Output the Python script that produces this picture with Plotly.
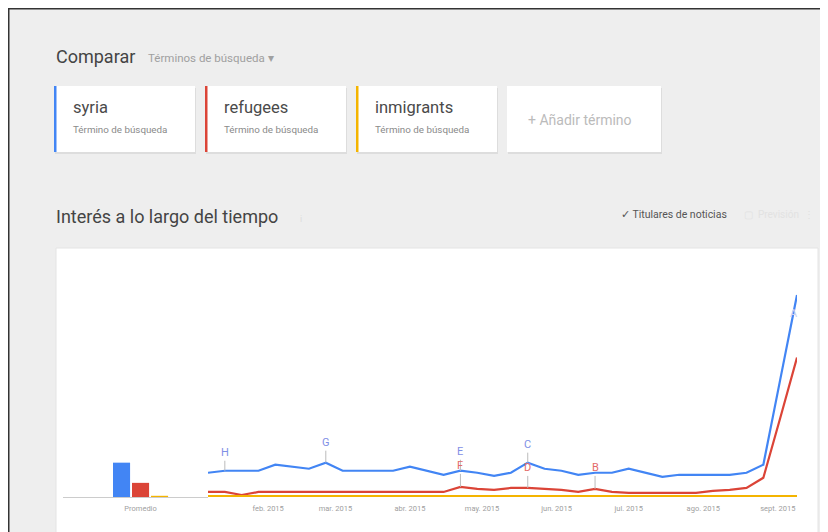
import pandas as pd
import plotly.graph_objects as go

# page offset: the browser body adds an 8px margin
OFF = 8
W, H = 820, 524

# ---------------- data ----------------
weeks = pd.date_range("2015-01-07", periods=36, freq="7D")
syria = [12, 13, 13, 13, 16, 15, 14, 17, 13, 13, 13, 13, 15, 13, 11, 13, 12, 10.5,
         12, 17, 14, 13, 11, 12, 12, 14, 12, 10, 11, 11, 11, 11, 12, 16, 58, 100]
refugees = [2.5, 2.5, 1, 2.5, 2.5, 2.5, 2.5, 2.5, 2.5, 2.5, 2.5, 2.5, 2.5, 2.5, 2.5, 5,
            4, 3.5, 4.5, 4.5, 4, 3.5, 2.5, 4, 2.5, 2, 2, 2, 2, 2, 3, 3.5, 4.5, 9.5, 39, 69]
inmigrants = [0.5] * 36

terms = ["syria", "refugees", "inmigrants"]
term_colors = ["#4285f4", "#db4437", "#f4b400"]
averages = [17, 7, 0.6]
avg_label = ["Promedio"]

month_ticks = ["2015-02-01", "2015-03-01", "2015-04-01", "2015-05-01",
               "2015-06-01", "2015-07-01", "2015-08-01", "2015-09-01"]
month_labels = ["feb. 2015", "mar. 2015", "abr. 2015", "may. 2015",
                "jun. 2015", "jul. 2015", "ago. 2015", "sept. 2015"]

# news headline markers: (letter, series index, week index, offset)
news = [("H", 0, 1, -18), ("G", 0, 7, -20), ("E", 0, 15, -19), ("C", 0, 19, -18),
        ("F", 1, 15, -21), ("D", 1, 19, -20), ("B", 1, 23, -21), ("A", 0, 35, 18)]


def fx(p):
    return (p - OFF) / W


def fy(p):
    return 1 - (p - OFF) / H


series = [syria, refugees, inmigrants]

fig = go.Figure()

for name, vals, col in zip(terms, series, term_colors):
    fig.add_trace(go.Scatter(x=weeks, y=vals, mode="lines", name=name,
                             line=dict(color=col, width=2.2), cliponaxis=False,
                             hoverinfo="skip"))

fig.add_trace(go.Bar(x=[0, 1, 2], y=averages, marker=dict(color=term_colors, line=dict(width=0)),
                     width=0.9, xaxis="x2", yaxis="y", hoverinfo="skip"))

shapes = []
# page background
shapes.append(dict(type="rect", xref="paper", yref="paper", x0=fx(9), x1=fx(827), y0=fy(540), y1=fy(9),
                   fillcolor="#eeeeee", line=dict(width=0), layer="below"))
# chart card
shapes.append(dict(type="rect", xref="paper", yref="paper", x0=fx(56), x1=fx(818), y0=fy(545), y1=fy(248),
                   fillcolor="#ffffff", line=dict(color="#e4e4e4", width=1), layer="below"))
# term cards
card_x = [54, 205, 356, 507]
card_w = [141, 141, 141, 154]
for i, (cx, cw) in enumerate(zip(card_x, card_w)):
    shapes.append(dict(type="rect", xref="paper", yref="paper", x0=fx(cx + 1), x1=fx(cx + cw + 1),
                       y0=fy(154), y1=fy(88), fillcolor="#dddddd", line=dict(width=0), layer="below"))
    shapes.append(dict(type="rect", xref="paper", yref="paper", x0=fx(cx), x1=fx(cx + cw),
                       y0=fy(152), y1=fy(86), fillcolor="#ffffff", line=dict(width=0), layer="below"))
    if i < 3:
        shapes.append(dict(type="rect", xref="paper", yref="paper", x0=fx(cx), x1=fx(cx + 2.5),
                           y0=fy(152), y1=fy(86), fillcolor=term_colors[i], line=dict(width=0),
                           layer="below"))
# frame line
shapes.append(dict(type="rect", xref="paper", yref="paper", x0=fx(8.75), x1=fx(826.5), y0=fy(545),
                   y1=fy(8.75), fillcolor="rgba(0,0,0,0)", line=dict(color="#333333", width=1.5)))

ann = []
F = "Roboto"
ann.append(dict(text="Comparar", x=fx(54), y=fy(56), xref="paper", yref="paper", xanchor="left",
                yanchor="middle", showarrow=False, font=dict(family=F, size=18, color="#444444")))
ann.append(dict(text="Términos de búsqueda ▾", x=fx(146), y=fy(58), xref="paper", yref="paper",
                xanchor="left", yanchor="middle", showarrow=False, font=dict(family=F, size=11.5, color="#a0a0a0")))
for i in range(3):
    ann.append(dict(text=terms[i], x=fx(card_x[i] + 17), y=fy(108), xref="paper", yref="paper",
                    xanchor="left", yanchor="middle", showarrow=False,
                    font=dict(family=F, size=16.5, color="#4a4a4a")))
    ann.append(dict(text="Término de búsqueda", x=fx(card_x[i] + 17), y=fy(129), xref="paper", yref="paper",
                    xanchor="left", yanchor="middle", showarrow=False,
                    font=dict(family=F, size=9.8, color="#8a8a8a")))
ann.append(dict(text="+ Añadir término", x=fx(526), y=fy(120), xref="paper", yref="paper",
                xanchor="left", yanchor="middle", showarrow=False, font=dict(family=F, size=14, color="#bbbbbb")))
ann.append(dict(text="Interés a lo largo del tiempo", x=fx(54), y=fy(216), xref="paper", yref="paper",
                xanchor="left", yanchor="middle", showarrow=False, font=dict(family=F, size=18, color="#444444")))
ann.append(dict(text="i", x=fx(301), y=fy(219), xref="paper", yref="paper",
                xanchor="center", yanchor="middle", showarrow=False, font=dict(family=F, size=9, color="#dddddd")))
ann.append(dict(text="✓ Titulares de noticias", x=fx(619), y=fy(214), xref="paper", yref="paper",
                xanchor="left", yanchor="middle", showarrow=False, font=dict(family=F, size=10.5, color="#555555")))
ann.append(dict(text="▢  Previsión  ⋮", x=fx(742), y=fy(214), xref="paper", yref="paper",
                xanchor="left", yanchor="middle", showarrow=False, font=dict(family=F, size=10, color="#e2e2e2")))

for letter, si, wi, off in news:
    col = "#7f8fe6" if si == 0 else "#e46a6a"
    if letter == "A":
        col = "#c8cff0"
    ann.append(dict(text=letter, x=weeks[wi], y=series[si][wi], xref="x", yref="y",
                    showarrow=True, arrowhead=0, arrowwidth=1,
                    arrowcolor="#bbbbbb" if letter != "A" else "rgba(0,0,0,0)",
                    ax=-3 if letter == "A" else 0, ay=off, standoff=0,
                    font=dict(family=F, size=11, color=col)))

fig.update_layout(
    width=W, height=H, margin=dict(l=0, r=0, t=0, b=0),
    paper_bgcolor="#ffffff", plot_bgcolor="rgba(0,0,0,0)",
    showlegend=False, shapes=shapes, annotations=ann,
    font=dict(family=F),
    xaxis=dict(domain=[fx(208), fx(797)], range=[weeks[0], weeks[-1]], showgrid=False, zeroline=False,
               showline=False, tickmode="array", tickvals=month_ticks, ticktext=month_labels,
               ticks="outside", ticklen=4, tickcolor="rgba(0,0,0,0)",
               tickfont=dict(family=F, size=7.5, color="#a0a0a0"), anchor="y"),
    xaxis2=dict(domain=[fx(63), fx(208)], range=[-3.08, 4.55], showgrid=False, zeroline=False,
                showline=True, linecolor="#cccccc", linewidth=1, tickmode="array", tickvals=[1],
                ticktext=avg_label, ticks="outside", ticklen=4, tickcolor="rgba(0,0,0,0)",
                tickfont=dict(family=F, size=7.5, color="#a0a0a0"), anchor="y"),
    yaxis=dict(domain=[fy(497), fy(497 - 105 * 2.02)], range=[0, 105], visible=False),
)

fig.write_html("out.html")
